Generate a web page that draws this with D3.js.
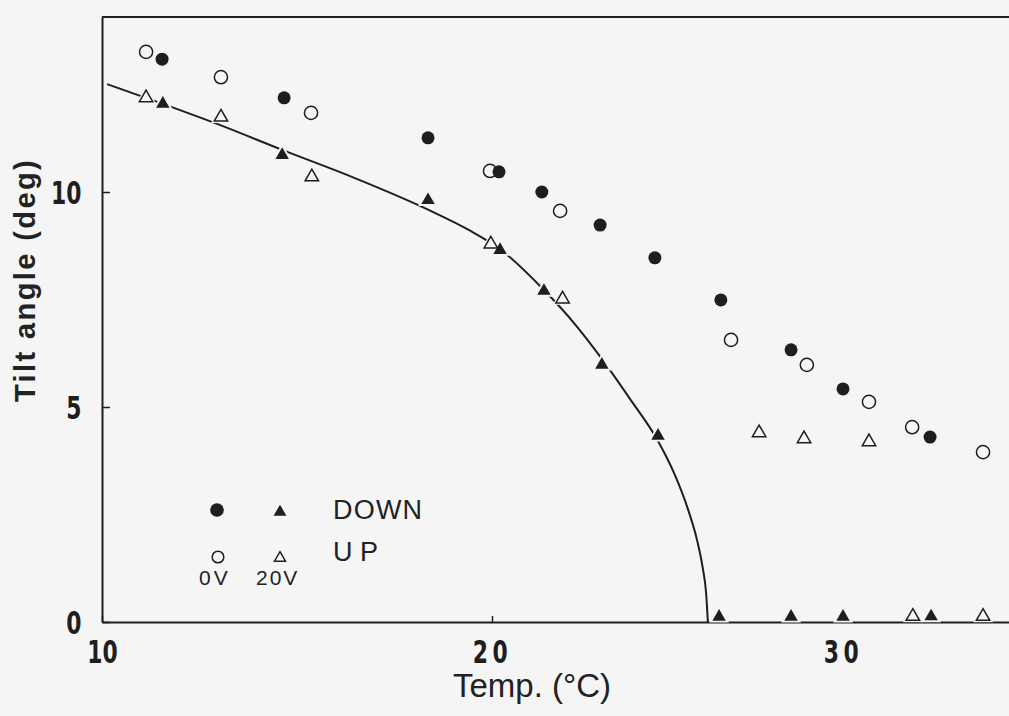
<!DOCTYPE html>
<html>
<head>
<meta charset="utf-8">
<script src="https://cdn.jsdelivr.net/npm/d3@7"></script>
<style>
  body { margin: 0; background: #f5f5f6; }
  svg { display: block; }
  .tick text { font-family: "DejaVu Sans Condensed", "DejaVu Sans", sans-serif; font-weight: bold; font-size: 32px; fill: #1e1e1e; }
  .lbl { font-family: "Liberation Sans", Arial, sans-serif; fill: #222; }
</style>
</head>
<body>
<svg id="chart" width="1009" height="716"></svg>
<script>
// --- DATA (temp in degC, tilt angle in deg) ---
const tempTicks = [10, 20, 30];
const tiltTicks = [0, 5, 10];

// DOWN, 0V (filled circles)
const down0V = [[11.54, 13.09], [14.67, 12.19], [18.36, 11.26], [20.20, 10.47], [21.42, 10.0],
  [23.08, 9.23], [24.64, 8.47], [26.52, 7.49], [28.52, 6.33], [30.0, 5.42], [32.48, 4.30]];
// UP, 0V (open circles)
const up0V = [[11.13, 13.26], [13.05, 12.67], [15.36, 11.84], [19.95, 10.49], [21.94, 9.56],
  [26.81, 6.56], [28.97, 5.98], [30.74, 5.12], [31.97, 4.53], [33.99, 3.95]];
// DOWN, 20V (filled triangles)
const down20V = [[11.56, 12.05], [14.62, 10.86], [18.36, 9.81], [20.23, 8.65], [21.48, 7.70],
  [23.13, 5.98], [24.73, 4.33], [26.47, 0.12], [28.52, 0.12], [30.0, 0.12], [32.51, 0.13]];
// UP, 20V (open triangles)
const up20V = [[11.13, 12.19], [13.05, 11.74], [15.38, 10.35], [19.97, 8.79], [22.01, 7.51],
  [27.61, 4.40], [28.89, 4.26], [30.74, 4.19], [31.99, 0.13], [33.99, 0.13]];
// fitted curve
const fitCurve = [[10.13, 12.51], [11.56, 12.05], [13.05, 11.55], [14.62, 10.98], [16.36, 10.37],
  [18.36, 9.59], [19.44, 9.10], [20.23, 8.67], [21.48, 7.72], [22.36, 6.93], [23.13, 6.12],
  [23.93, 5.19], [24.73, 4.21], [25.21, 3.42], [25.58, 2.63], [25.84, 1.91], [26.01, 1.23],
  [26.10, 0.67], [26.15, 0]];

// --- D3 Setup ---
const svg = d3.select("#chart");
const ink = "#1e1e1e", paper = "#f5f5f6";
const plotLeft = 102, plotTop = 17, plotBottom = 622;

// the scanned axis is not evenly spaced, so the scale is piecewise
const x = d3.scaleLinear().domain([10, 20, 30, 35]).range([plotLeft, 492, 843, 1018.5]);
const y = d3.scaleLinear().domain([0, 14.07]).range([plotBottom, plotTop]);

// frame
svg.append("line").attr("x1", plotLeft).attr("x2", 1009).attr("y1", plotTop).attr("y2", plotTop)
  .attr("stroke", ink).attr("stroke-width", 2.2);

const xAxis = svg.append("g").attr("transform", `translate(0,${plotBottom})`)
  .call(d3.axisBottom(x).tickValues(tempTicks).tickSizeInner(-6).tickSizeOuter(0).tickPadding(18));
const yAxis = svg.append("g").attr("transform", `translate(${plotLeft},0)`)
  .call(d3.axisLeft(y).tickValues(tiltTicks).tickSizeInner(-8).tickSizeOuter(0).tickPadding(20));
[xAxis, yAxis].forEach(a => {
  a.select(".domain").attr("stroke", ink).attr("stroke-width", 2);
  a.selectAll(".tick line").attr("stroke", ink).attr("stroke-width", 1.5);
});
// narrow bold digits, as in the scan
xAxis.selectAll(".tick text").attr("transform", "scale(0.76,1)")
  .attr("letter-spacing", d => d === 10 ? 0 : 6);
yAxis.selectAll(".tick text").attr("transform", "scale(0.76,1)")
  .attr("x", -27).attr("dy", "0.36em");

// axis titles
svg.append("text").attr("class", "lbl")
  .attr("transform", "translate(35,402) rotate(-90)")
  .attr("font-size", 29).attr("font-weight", "bold").attr("letter-spacing", 2.4)
  .text("Tilt angle  (deg)");
svg.append("text").attr("class", "lbl")
  .attr("x", 532).attr("y", 697).attr("text-anchor", "middle")
  .attr("font-size", 33)
  .text("Temp. (°C)");

// fitted curve
const line = d3.line().x(d => x(d[0])).y(d => y(d[1])).curve(d3.curveMonotoneX);
svg.append("path").datum(fitCurve).attr("d", line)
  .attr("fill", "none").attr("stroke", ink).attr("stroke-width", 2);

// --- MARKERS ---
const tri = d3.symbol().type(d3.symbolTriangle);
const series = [
  { data: up0V, kind: "circle", filled: false },
  { data: down0V, kind: "circle", filled: true },
  { data: up20V, kind: "tri", filled: false },
  { data: down20V, kind: "tri", filled: true }
];

function drawMark(sel, kind, filled, scale, halo) {
  if (kind === "circle") {
    sel.append("circle").attr("r", (filled ? 6.5 : 6.6) * scale + (halo ? 2.5 : 0))
      .attr("fill", halo ? paper : (filled ? ink : paper))
      .attr("stroke", halo ? "none" : ink).attr("stroke-width", filled ? 0 : 1.5);
  } else {
    const size = 78 * scale * scale;
    sel.append("path").attr("d", tri.size(halo ? size * 2.2 : size)())
      .attr("fill", halo ? paper : (filled ? ink : paper))
      .attr("stroke", halo ? "none" : ink).attr("stroke-width", filled ? 0 : 1.5)
      .attr("stroke-linejoin", "miter");
  }
}

const marks = svg.append("g");
// halos first, so the curve breaks around the points
series.forEach(s => {
  marks.selectAll(null).data(s.data).join("g")
    .attr("transform", d => `translate(${x(d[0])},${y(d[1])})`)
    .each(function () { drawMark(d3.select(this), s.kind, s.filled, 1, true); });
});
series.forEach(s => {
  marks.selectAll(null).data(s.data).join("g")
    .attr("transform", d => `translate(${x(d[0])},${y(d[1])})`)
    .each(function () { drawMark(d3.select(this), s.kind, s.filled, 1, false); });
});

// --- LEGEND ---
const legend = svg.append("g");
[[217, 510, "circle", true, 1.05], [280, 512, "tri", true, 0.95], [218, 557, "circle", false, 0.88], [280, 558, "tri", false, 0.82]]
  .forEach(([lx, ly, kind, filled, sc]) => {
    drawMark(legend.append("g").attr("transform", `translate(${lx},${ly})`), kind, filled, sc, false);
  });
legend.append("text").attr("class", "lbl").attr("x", 333).attr("y", 519)
  .attr("font-size", 27).attr("letter-spacing", 1.2).text("DOWN");
legend.append("text").attr("class", "lbl").attr("x", 333).attr("y", 561)
  .attr("font-size", 27).text("U P");
legend.append("text").attr("class", "lbl").attr("x", 199).attr("y", 585)
  .attr("font-family", "DejaVu Sans").attr("font-size", 21).attr("letter-spacing", 3).text("0V");
legend.append("text").attr("class", "lbl").attr("x", 256).attr("y", 585)
  .attr("font-family", "DejaVu Sans").attr("font-size", 21).attr("letter-spacing", 2).text("20V");
</script>
</body>
</html>
